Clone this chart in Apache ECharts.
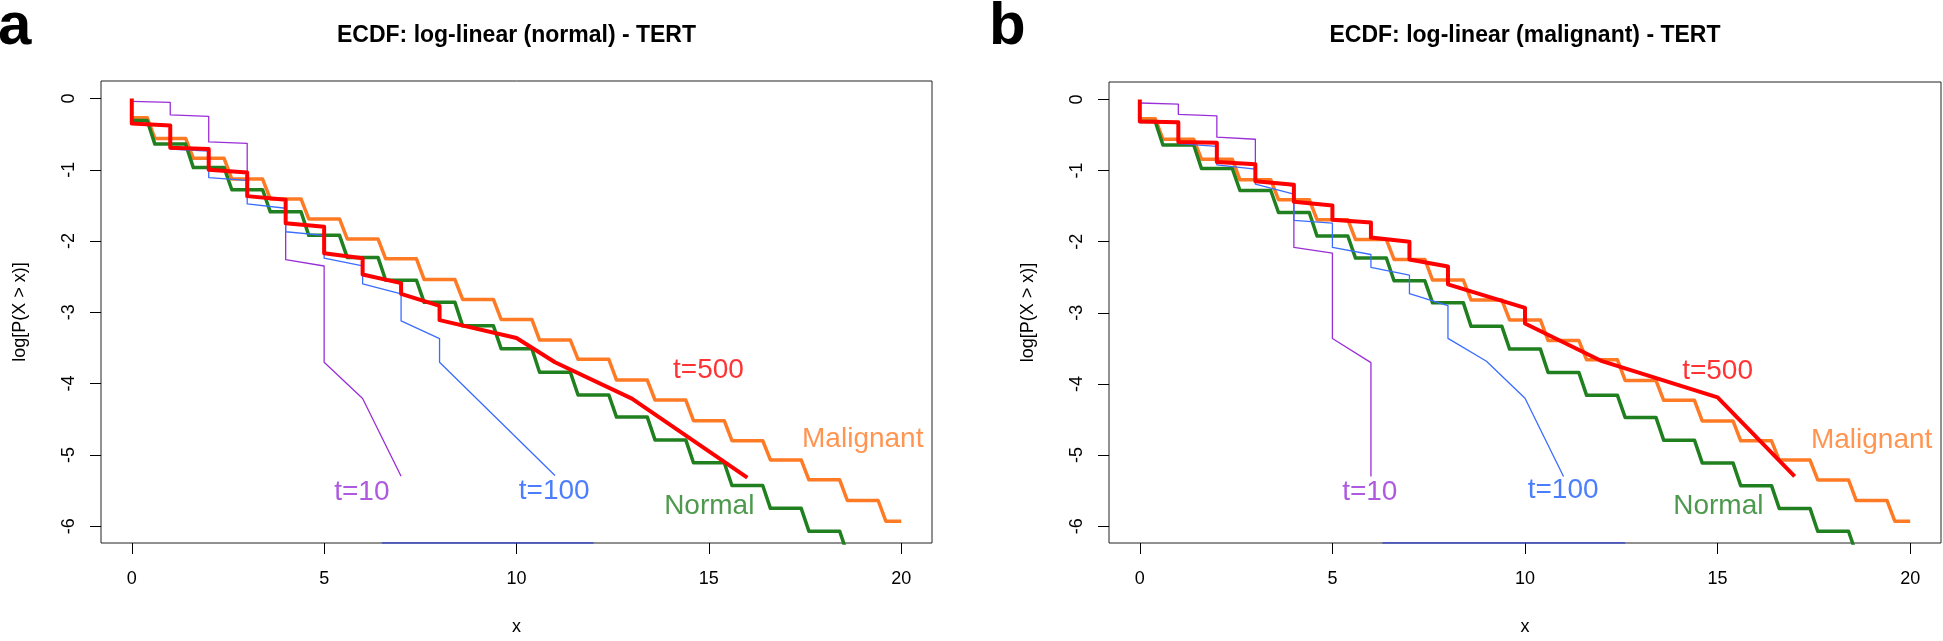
<!DOCTYPE html>
<html><head><meta charset="utf-8">
<script src="https://cdn.jsdelivr.net/npm/echarts@6/dist/echarts.min.js"></script>
<style>html,body{margin:0;padding:0;background:#fff}#c{width:1943px;height:641px}</style>
</head><body><div id="c"></div>
<script>
// ---------- data ----------
const X_TICKS = [0, 5, 10, 15, 20];
const Y_TICKS = [0, -1, -2, -3, -4, -5, -6];
const PANEL_TITLES = ['ECDF: log-linear (normal) - TERT', 'ECDF: log-linear (malignant) - TERT'];
const PANEL_LETTERS = ['a', 'b'];

// step levels of the empirical curves (one level per integer x)
const NORMAL_LEVELS = [-0.31, -0.64, -0.97, -1.28, -1.59, -1.92, -2.23, -2.55, -2.86, -3.19,
  -3.51, -3.84, -4.16, -4.47, -4.79, -5.11, -5.43, -5.75, -6.07, -6.39];
const MALIGNANT_LEVELS = [-0.27, -0.56, -0.84, -1.13, -1.41, -1.69, -1.97, -2.25, -2.54, -2.82,
  -3.10, -3.39, -3.66, -3.95, -4.23, -4.52, -4.80, -5.07, -5.35, -5.64, -5.93];

// model curves, panel a (normal)
const T10_A = [[0,-0.04],[1,-0.055],[1,-0.23],[2,-0.25],[2,-0.61],[3,-0.63],[3,-1.37],[4,-1.42],
  [4,-2.26],[5,-2.35],[5,-3.70],[6,-4.21],[7,-5.30]];
const T100_A = [[0,-0.34],[1,-0.37],[1,-0.71],[2,-0.74],[2,-1.11],[3,-1.15],[3,-1.48],[4,-1.54],
  [4,-1.87],[5,-1.92],[5,-2.24],[6,-2.35],[6,-2.60],[7,-2.74],[7,-3.12],[8,-3.37],[8,-3.70],[11,-5.29]];
const T500_A = [[0,0],[0,-0.35],[1,-0.38],[1,-0.69],[2,-0.71],[2,-1.00],[3,-1.04],[3,-1.37],[4,-1.42],
  [4,-1.75],[5,-1.80],[5,-2.17],[6,-2.24],[6,-2.47],[7,-2.59],[7,-2.74],[8,-2.91],[8,-3.11],
  [10,-3.36],[11,-3.70],[13,-4.21],[16,-5.32]];
const FLOOR_A = [6.5, 12];

// model curves, panel b (malignant)
const T10_B = [[0,-0.05],[1,-0.065],[1,-0.21],[2,-0.23],[2,-0.53],[3,-0.56],[3,-1.15],[4,-1.22],
  [4,-2.08],[5,-2.16],[5,-3.36],[6,-3.70],[6,-5.30]];
const T100_B = [[0,-0.31],[1,-0.33],[1,-0.62],[2,-0.66],[2,-0.92],[3,-0.98],[3,-1.19],[4,-1.33],
  [4,-1.70],[5,-1.74],[5,-2.08],[6,-2.18],[6,-2.36],[7,-2.47],[7,-2.73],[8,-2.90],[8,-3.36],
  [9,-3.68],[10,-4.20],[11,-5.30]];
const T500_B = [[0,0],[0,-0.31],[1,-0.32],[1,-0.60],[2,-0.61],[2,-0.88],[3,-0.91],[3,-1.15],[4,-1.20],
  [4,-1.44],[5,-1.49],[5,-1.69],[6,-1.73],[6,-1.94],[7,-2.00],[7,-2.25],[8,-2.35],[8,-2.60],
  [10,-2.93],[10,-3.15],[12,-3.68],[15,-4.19],[17,-5.30]];
const FLOOR_B = [6.3, 12.6];

// in-plot annotations
const LABEL_TEXT = ['t=10', 't=100', 'Normal', 'Malignant', 't=500'];
const LABEL_POS_A = [[5.98,-5.52],[10.98,-5.51],[15.01,-5.72],[19.0,-4.78],[14.99,-3.81]];
const LABEL_POS_B = [[5.97,-5.52],[10.99,-5.50],[15.02,-5.72],[19.0,-4.79],[15.0,-3.82]];

// ---------- styling ----------
const FONT = '"Liberation Sans", Arial, Helvetica, sans-serif';
const COL = { t10: '#9a2fd6', t100: '#3a6dff', normal: '#208020', malignant: '#ff7a25', t500: '#ff0000', floor: '#3344cc' };
const LABEL_COLORS = [COL.t10, '#1e5cff', COL.normal, COL.malignant, COL.t500];
const X_RANGE = [-0.8, 20.8];
const Y_RANGE = [-6.236, 0.245];

function stepPoints(levels, endX) {
  const pts = [];
  levels.forEach((L, k) => {
    const x0 = k === 0 ? 0 : k - 0.4;
    const x1 = k === levels.length - 1 ? endX : k + 0.4;
    pts.push([x0, L], [x1, L]);
  });
  return pts;
}

const grids = [
  { left: 101, top: 81, width: 831, height: 467 },
  { left: 1109, top: 82, width: 832, height: 467 }
];

const xAxes = grids.map((g, i) => ({
  type: 'value', gridIndex: i, min: X_RANGE[0], max: X_RANGE[1], position: 'bottom',
  name: 'x', nameLocation: 'middle', nameGap: 75,
  nameTextStyle: { fontFamily: FONT, fontSize: 18, color: '#000' },
  axisLine: { show: false, onZero: false }, splitLine: { show: false },
  axisTick: { show: true, length: 11, customValues: X_TICKS, lineStyle: { color: '#000', width: 1 } },
  axisLabel: { customValues: X_TICKS, margin: 27, fontFamily: FONT, fontSize: 18, color: '#000' }
}));
const yAxes = grids.map((g, i) => ({
  type: 'value', gridIndex: i, min: Y_RANGE[0], max: Y_RANGE[1], position: 'left',
  name: 'log[P(X > x)]', nameLocation: 'middle', nameGap: 72,
  nameTextStyle: { fontFamily: FONT, fontSize: 18, color: '#000' },
  axisLine: { show: false, onZero: false }, splitLine: { show: false },
  axisTick: { show: true, length: 11, customValues: Y_TICKS, lineStyle: { color: '#000', width: 1 } },
  axisLabel: { customValues: Y_TICKS, rotate: 90, margin: 23, fontFamily: FONT, fontSize: 18, color: '#000' }
}));

function line(p, data, color, width, z) {
  return { type: 'line', xAxisIndex: p, yAxisIndex: p, data, showSymbol: false, symbol: 'none',
    clip: true, z, silent: true, animation: false,
    lineStyle: { color, width, join: 'round', cap: 'butt' } };
}

const series = [];
const panelData = [
  { t10: T10_A, t100: T100_A, t500: T500_A, floor: FLOOR_A, labels: LABEL_POS_A },
  { t10: T10_B, t100: T100_B, t500: T500_B, floor: FLOOR_B, labels: LABEL_POS_B }
];
panelData.forEach((d, p) => {
  series.push(line(p, d.floor.map(x => [x, Y_RANGE[0]]), COL.floor, 1.5, 1));
  series.push(line(p, stepPoints(MALIGNANT_LEVELS, 20), COL.malignant, 3.5, 2));
  series.push(line(p, stepPoints(NORMAL_LEVELS, 19.4), COL.normal, 3.5, 3));
  series.push(line(p, d.t10, COL.t10, 1.3, 4));
  series.push(line(p, d.t100, COL.t100, 1.3, 5));
  series.push(line(p, d.t500, COL.t500, 4, 6));
  series.push({
    type: 'scatter', xAxisIndex: p, yAxisIndex: p, symbolSize: 1, silent: true, animation: false, z: 7,
    itemStyle: { color: 'rgba(0,0,0,0)' },
    data: d.labels.map((pos, i) => ({ value: pos, name: LABEL_TEXT[i],
      label: { color: LABEL_COLORS[i] } })),
    label: { show: true, formatter: '{b}', position: 'inside', align: 'center', verticalAlign: 'middle',
      fontFamily: FONT, fontSize: 28 },
    labelLayout: { hideOverlap: false }
  });
});

const graphic = [];
grids.forEach((g, i) => {
  graphic.push({ type: 'text', x: g.left + g.width / 2, y: 36, silent: true,
    style: { text: PANEL_TITLES[i], fill: '#000', font: 'bold 23px ' + FONT,
      textAlign: 'center', textVerticalAlign: 'middle', align: 'center', verticalAlign: 'middle' } });
});
[[ -2, 27 ], [ 989, 27 ]].forEach((pos, i) => {
  graphic.push({ type: 'text', x: pos[0], y: pos[1], silent: true,
    style: { text: PANEL_LETTERS[i], fill: '#000', font: 'bold 60px ' + FONT,
      textAlign: 'left', textVerticalAlign: 'middle', align: 'left', verticalAlign: 'middle' } });
});

const chart = echarts.init(document.getElementById('c'), null, { renderer: 'canvas' });
chart.setOption({
  backgroundColor: '#fff',
  animation: false,
  grid: grids.map(g => Object.assign({ show: true, borderColor: '#222', borderWidth: 1, backgroundColor: 'transparent' }, g)),
  xAxis: xAxes,
  yAxis: yAxes,
  series,
  graphic
});
</script></body></html>
